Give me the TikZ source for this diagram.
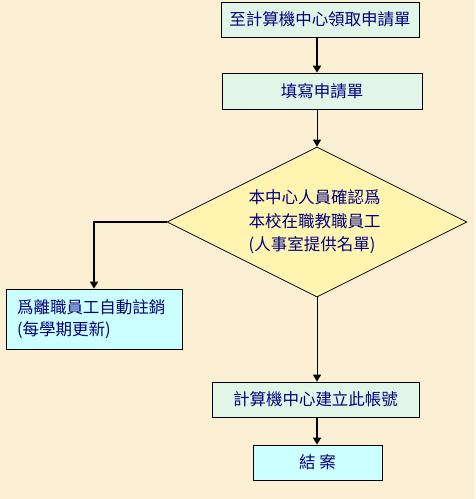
\documentclass[tikz,border=0pt]{standalone}
\usepackage{fontspec}
\setmainfont{Noto Sans CJK TC}
\usetikzlibrary{shapes.geometric, arrows.meta}

\definecolor{parchment}{RGB}{251,240,212}
\definecolor{boxmint}{RGB}{226,246,232}
\definecolor{boxcyan}{RGB}{204,255,255}
\definecolor{diayellow}{RGB}{255,245,176}
\definecolor{textnavy}{RGB}{0,0,128}

\begin{document}
\begin{tikzpicture}[x=1pt,y=-1pt,
  flowbox/.style={draw=black,line width=0.8pt,minimum height=35pt,inner sep=0pt,
    text=textnavy,font=\fontsize{16.5pt}{22pt}\selectfont},
  thickarrow/.style={line width=2.2pt,-{Triangle[length=7pt,width=8pt]}},
  thinarrow/.style={line width=1pt,-{Triangle[length=7pt,width=8pt]}}]

% background sheet
\fill[parchment] (0,0) rectangle (475,499);
\useasboundingbox (0,0) rectangle (475,499);

% main column of steps
\node[flowbox,fill=boxmint,minimum width=198pt] (apply) at (320,19.5) {至計算機中心領取申請單};
\node[flowbox,fill=boxmint,minimum width=200pt,minimum height=36pt] (fillin) at (322,91) {填寫申請單};
\node[diamond,aspect=2,draw=black,line width=0.8pt,fill=diayellow,minimum width=300pt,minimum height=150pt,
  inner sep=0pt,align=left,text=textnavy,font=\fontsize{16.5pt}{23.5pt}\selectfont] (check) at (317,222)
  {本中心人員確認爲\\本校在職教職員工\\(人事室提供名單)\hspace*{10pt}};
\node[flowbox,fill=boxmint,minimum width=207pt] (account) at (315.5,399.5) {計算機中心建立此帳號};
\node[flowbox,fill=boxcyan,minimum width=129pt] (close) at (317.5,462.5) {結 案};

% side branch
\node[flowbox,fill=boxcyan,minimum width=176pt,minimum height=60pt,text width=154pt,align=left]
  (expire) at (94,319) {爲離職員工自動註銷\\(每學期更新)};

% connectors
\draw[thickarrow] (apply.south -| check.north) -- (fillin.north -| check.north);
\draw[thinarrow] (fillin.south -| check.north) -- (check.north);
\draw[thickarrow] (check.west) -| (expire.north);
\draw[thinarrow] (check.south) -- (account.north -| check.south);
\draw[thickarrow] (account.south -| check.south) -- (close.north -| check.south);
\end{tikzpicture}
\end{document}
